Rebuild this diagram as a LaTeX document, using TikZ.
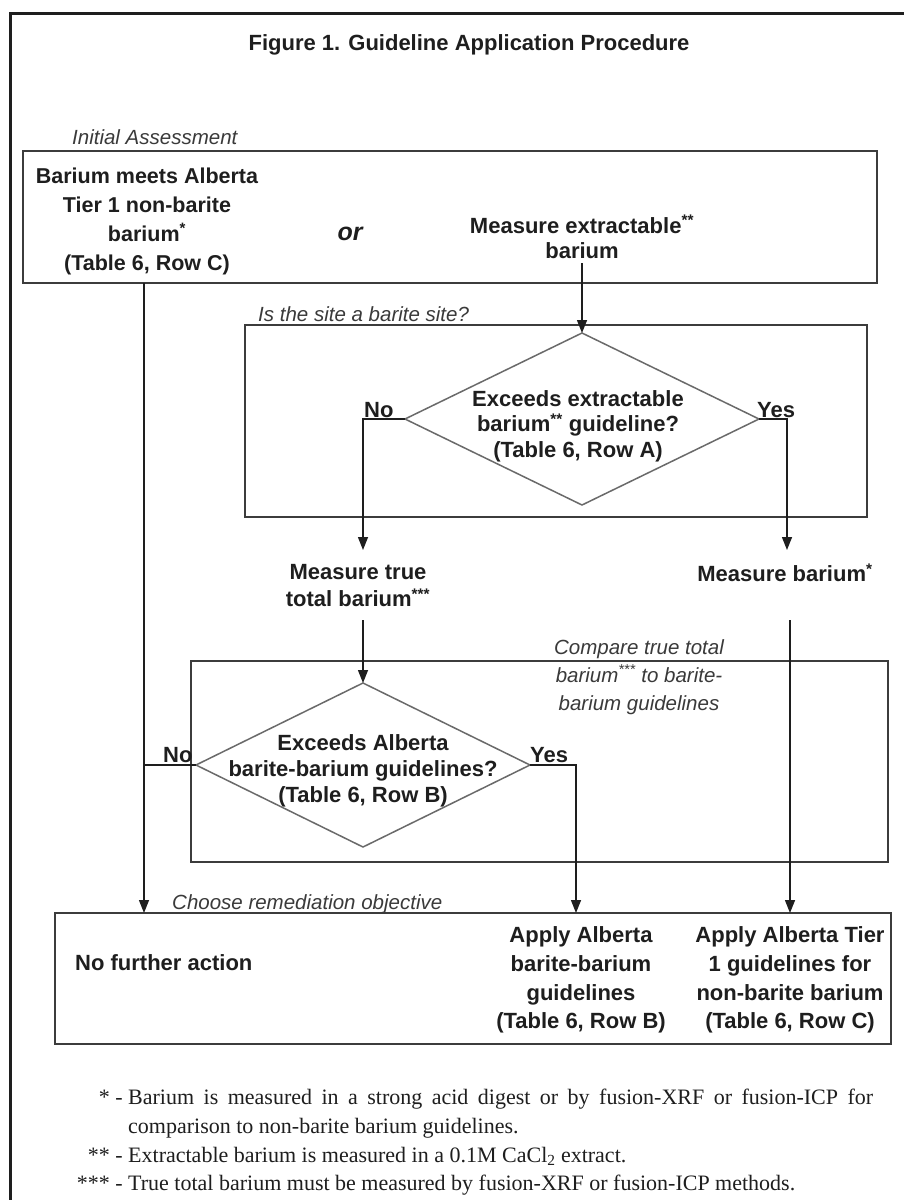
\documentclass[tikz,border=0pt]{standalone}
\usepackage{fontspec}
\setmainfont{Liberation Serif}
\setsansfont{Liberation Sans}
\usetikzlibrary{arrows.meta,shapes.geometric}

\definecolor{ink}{HTML}{1E1E1E}
\definecolor{note}{HTML}{3A3A3A}
\definecolor{frameline}{HTML}{3C3C3C}
\definecolor{diamline}{HTML}{6A6A6A}

\newcommand{\boldsans}[2]{\sffamily\bfseries\fontsize{#1}{#2}\selectfont}

\tikzset{
  lbl/.style={font=\boldsans{22}{27}, text=ink, align=center, inner sep=0pt},
  tag/.style={font=\sffamily\itshape\fontsize{20.5}{28}\selectfont, text=note, inner sep=0pt},
  fn/.style={font=\rmfamily\fontsize{22}{29}\selectfont, text=ink, inner sep=0pt},
  box/.style={draw=frameline, line width=1.6pt, rectangle, inner sep=0pt, outer sep=0pt},
  decision/.style={draw=diamline, line width=1.5pt, diamond, inner sep=0pt, outer sep=0pt},
  flow/.style={draw=ink, line width=1.4pt, -{Triangle[length=13pt,width=10pt]}},
  link/.style={draw=ink, line width=1.4pt},
}

\begin{document}
\begin{tikzpicture}[x=1pt,y=-1pt]
\useasboundingbox (0,0) rectangle (904,1200);
\fill[white] (0,0) rectangle (904,1200);

% page frame
\draw[line width=3pt, draw=ink] (904,13) -- (10,13) -- (10,1200);

\node[lbl] (title) at (469,45) {Figure 1. Guideline Application Procedure};

% initial assessment
\node[box, minimum width=854pt, minimum height=132pt] (init) at (450,217) {};
\node[tag, anchor=base west] (initlbl) at (72,144) {Initial Assessment};
\node[lbl, font=\boldsans{21.5}{29}] (meets) at (147,221)
  {Barium meets Alberta\\Tier 1 non-barite\\barium\textsuperscript{*}\\(Table 6, Row C)};
\node[lbl, font=\sffamily\bfseries\itshape\fontsize{25}{30}\selectfont] (or) at (350,234) {or};
\node[lbl, font=\boldsans{22}{25}] (extr) at (582,237) {Measure extractable\textsuperscript{**}\\barium};

% barite site test
\node[box, minimum width=622pt, minimum height=192pt] (site) at (556,421) {};
\node[tag, anchor=base west] (sitelbl) at (258,321) {Is the site a barite site?};
\node[decision, minimum width=354pt, minimum height=172pt] (d1) at (582,419) {};
\node[lbl, font=\boldsans{22}{25.5}] (d1txt) at (578,426)
  {Exceeds extractable\\barium\textsuperscript{**} guideline?\\(Table 6, Row A)};
\node[lbl, anchor=base west] (no1) at (364,417) {No};
\node[lbl, anchor=base west] (yes1) at (757,417) {Yes};

\node[lbl] (truetot) at (358,586) {Measure true\\total barium\textsuperscript{***}};
\node[lbl] (mba) at (785,573) {Measure barium\textsuperscript{*}};

% comparison with barite-barium guidelines
\node[box, minimum width=697pt, minimum height=201pt] (cmp) at (539.5,761.5) {};
\node[tag, align=center] (cmplbl) at (639,677)
  {Compare true total\\barium\textsuperscript{***} to barite-\\barium guidelines};
\node[decision, minimum width=334pt, minimum height=164pt] (d2) at (363,765) {};
\node[lbl, font=\boldsans{22}{26}] (d2txt) at (363,771)
  {Exceeds Alberta\\barite-barium guidelines?\\(Table 6, Row B)};
\node[lbl, anchor=base west] (no2) at (163,762) {No};
\node[lbl, anchor=base west] (yes2) at (530,762) {Yes};

% remediation objective
\node[box, minimum width=836pt, minimum height=131pt] (out) at (473,978.5) {};
\node[tag, anchor=base west] (outlbl) at (172,909) {Choose remediation objective};
\node[lbl, anchor=base west] (nfa) at (75,970) {No further action};
\node[lbl, font=\boldsans{22}{28.7}] (apb) at (581,980)
  {Apply Alberta\\barite-barium\\guidelines\\(Table 6, Row B)};
\node[lbl, font=\boldsans{22}{28.7}] (apc) at (790,980)
  {Apply Alberta Tier\\1 guidelines for\\non-barite barium\\(Table 6, Row C)};

% connectors
\coordinate (lx) at (144,0);
\coordinate (yx) at (576,0);
\coordinate (etop) at (582,263);
\coordinate (ntrue) at (363,550);
\coordinate (nmba) at (787,550);
\coordinate (ttop) at (363,620);
\coordinate (rtop) at (790,620);

\draw[flow] (init.south -| lx) -- (out.north -| lx);
\draw[flow] (etop) -- (d1.north);
\draw[flow] (d1.west) -| (ntrue);
\draw[flow] (d1.east) -| (nmba);
\draw[flow] (ttop) -- (d2.north);
\draw[flow] (rtop) -- (out.north -| rtop);
\draw[link] (d2.west) -- (d2.west -| lx);
\draw[flow] (d2.east) -| (out.north -| yx);

% footnotes
\node[fn, anchor=base east] (m1) at (123,1104) {* -};
\node[fn, anchor=base west] (f1a) at (128,1104)
  {\makebox[745pt][s]{Barium is measured in a strong acid digest or by fusion-XRF or fusion-ICP for}};
\node[fn, anchor=base west] (f1b) at (128,1133) {comparison to non-barite barium guidelines.};
\node[fn, anchor=base east] (m2) at (123,1162) {** -};
\node[fn, anchor=base west] (f2) at (128,1162)
  {Extractable barium is measured in a 0.1M CaCl\textsubscript{2} extract.};
\node[fn, anchor=base east] (m3) at (123,1190) {*** -};
\node[fn, anchor=base west] (f3) at (128,1190)
  {True total barium must be measured by fusion-XRF or fusion-ICP methods.};
\end{tikzpicture}
\end{document}
